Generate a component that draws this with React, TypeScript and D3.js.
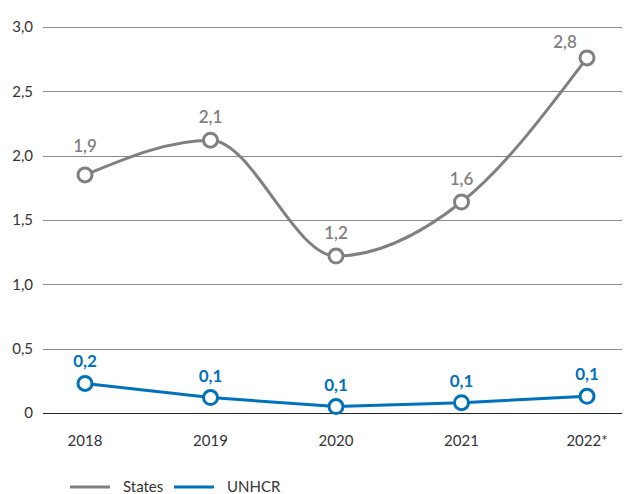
import { useEffect, useRef } from "react";
import * as d3 from "d3";

const years = ["2018", "2019", "2020", "2021", "2022*"];
const statesValues = [1.85, 2.12, 1.22, 1.64, 2.76];
const statesLabels = ["1,9", "2,1", "1,2", "1,6", "2,8"];
const unhcrValues = [0.23, 0.12, 0.05, 0.08, 0.13];
const unhcrLabels = ["0,2", "0,1", "0,1", "0,1", "0,1"];
const yTicks = [0, 0.5, 1, 1.5, 2, 2.5, 3];
const yTickLabels = ["0", "0,5", "1,0", "1,5", "2,0", "2,5", "3,0"];

// label nudges so they sit clear of the curve
const statesLabelShift = [[0, -23], [0, -17], [0, -17], [0, -17], [-22, -10]];

const GRAY = "#808080";
const BLUE = "#0072bc";
const FONT = "Lato, 'Open Sans', sans-serif";

export default function App() {
    const svgRef = useRef<SVGSVGElement>(null);

    useEffect(() => {
        if (!svgRef.current) return;
        const svg = d3.select(svgRef.current);
        svg.selectAll("*").remove();

        const width = 630;
        const height = 494;
        const left = 43;
        const right = 622;

        const x = d3.scalePoint<string>().domain(years).range([85, 587]);
        const y = d3.scaleLinear().domain([0, 3]).range([413, 27]);

        svg.attr("width", width).attr("height", height).style("font-family", FONT);

        // Grid
        const grid = svg.append("g");
        yTicks.forEach((t, i) => {
            grid.append("line")
                .attr("x1", left).attr("x2", right)
                .attr("y1", Math.round(y(t)) + 0.5).attr("y2", Math.round(y(t)) + 0.5)
                .attr("stroke", t === 0 ? "#222" : "#8a8a8a")
                .attr("stroke-width", t === 0 ? 1.2 : 1);
            grid.append("text")
                .attr("x", 33).attr("y", y(t))
                .attr("dy", "0.35em")
                .attr("text-anchor", "end")
                .attr("font-size", 15)
                .attr("fill", "#333")
                .text(yTickLabels[i]);
        });

        // X labels
        years.forEach(yr => {
            svg.append("text")
                .attr("x", x(yr)!).attr("y", 446)
                .attr("text-anchor", "middle")
                .attr("font-size", 15)
                .attr("fill", "#333")
                .text(yr);
        });

        const drawSeries = (
            values: number[],
            labels: string[],
            color: string,
            curve: d3.CurveFactory,
            bold: boolean,
            shifts: number[][] | null
        ) => {
            const pts = values.map((v, i) => ({ k: years[i], v }));
            const line = d3.line<{ k: string; v: number }>()
                .x(d => x(d.k)!)
                .y(d => y(d.v))
                .curve(curve);
            svg.append("path")
                .datum(pts)
                .attr("fill", "none")
                .attr("stroke", color)
                .attr("stroke-width", 3)
                .attr("d", line);
            svg.append("g").selectAll("circle")
                .data(pts)
                .join("circle")
                .attr("cx", d => x(d.k)!)
                .attr("cy", d => y(d.v))
                .attr("r", 7)
                .attr("fill", "#fff")
                .attr("stroke", color)
                .attr("stroke-width", 3);
            svg.append("g").selectAll("text")
                .data(pts)
                .join("text")
                .attr("x", (d, i) => x(d.k)! + (shifts ? shifts[i][0] : 0))
                .attr("y", (d, i) => y(d.v) + (shifts ? shifts[i][1] : -16))
                .attr("text-anchor", "middle")
                .attr("font-size", 17)
                .attr("font-weight", bold ? 700 : 600)
                .attr("fill", color)
                .text((d, i) => labels[i]);
        };

        drawSeries(statesValues, statesLabels, GRAY, d3.curveMonotoneX, false, statesLabelShift);
        drawSeries(unhcrValues, unhcrLabels, BLUE, d3.curveLinear, true, null);

        // Legend
        const legend = [
            { name: "States", color: GRAY, x: 70 },
            { name: "UNHCR", color: BLUE, x: 174 },
        ];
        legend.forEach(l => {
            svg.append("line")
                .attr("x1", l.x).attr("x2", l.x + 40)
                .attr("y1", 487).attr("y2", 487)
                .attr("stroke", l.color)
                .attr("stroke-width", 3);
            svg.append("text")
                .attr("x", l.x + 53).attr("y", 487)
                .attr("dy", "0.35em")
                .attr("font-size", 15)
                .attr("fill", "#333")
                .text(l.name);
        });
    }, []);

    return (
        <div style={{ position: "absolute", left: 0, top: 0 }}>
            <svg ref={svgRef} style={{ display: "block" }}></svg>
        </div>
    );
}
